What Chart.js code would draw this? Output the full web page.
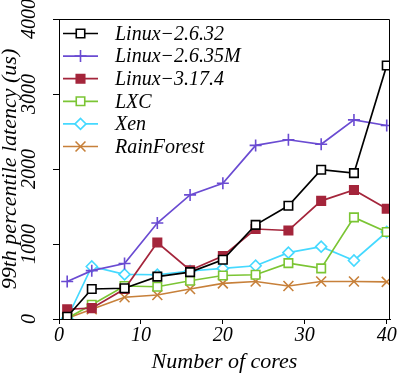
<!DOCTYPE html>
<html>
<head>
<meta charset="utf-8">
<script src="https://cdn.jsdelivr.net/npm/chart.js@4.4.0/dist/chart.umd.min.js"></script>
<style>
  body { margin: 0; background: #fff; }
</style>
</head>
<body>
<canvas id="myChart" width="399" height="373"></canvas>
<script>
// x values (number of cores)
const cores = [1, 4, 8, 12, 16, 20, 24, 28, 32, 36, 40];

// 99th percentile latency (us)
const linux2632  = [30, 400, 410, 565, 625, 790, 1255, 1510, 1990, 1945, 3380];
const linux2635M = [500, 645, 740, 1280, 1655, 1810, 2315, 2390, 2330, 2655, 2580];
const linux3174  = [130, 145, 400, 1020, 650, 840, 1200, 1180, 1575, 1720, 1470];
const lxc        = [10, 190, 440, 430, 510, 580, 590, 745, 675, 1355, 1160];
const xen        = [10, 700, 595, 590, 640, 675, 710, 885, 965, 780, 1160];
const rainforest = [10, 130, 290, 320, 400, 475, 500, 440, 500, 500, 495];

const xTicks = [0, 10, 20, 30, 40];
const yTicks = [0, 1000, 2000, 3000, 4000];

const serif = "'Liberation Serif', 'Times New Roman', serif";

function series(label, values, color, style, radius, fill) {
    return {
        label: label,
        data: cores.map((c, i) => ({ x: c, y: values[i] })),
        borderColor: color,
        backgroundColor: color,
        borderWidth: 1.7,
        pointStyle: style,
        pointRadius: radius,
        pointHoverRadius: radius,
        pointBorderWidth: 1.6,
        pointBorderColor: color,
        pointBackgroundColor: fill,
        tension: 0
    };
}

// legend drawn inside the plot, line + marker like the original
const legendInPlot = {
    id: 'legendInPlot',
    afterDatasetsDraw(chart) {
        const ctx = chart.ctx, a = chart.chartArea;
        ctx.save();
        ctx.font = 'italic 20px ' + serif;
        ctx.textBaseline = 'middle';
        ctx.textAlign = 'left';
        chart.data.datasets.forEach((ds, i) => {
            const y = a.top + 14.5 + i * 22.6;
            const x0 = a.left + 4;
            ctx.strokeStyle = ds.borderColor;
            ctx.lineWidth = ds.borderWidth;
            ctx.beginPath();
            ctx.moveTo(x0, y);
            ctx.lineTo(x0 + 35, y);
            ctx.stroke();
            ctx.fillStyle = ds.pointBackgroundColor;
            ctx.lineWidth = ds.pointBorderWidth;
            Chart.helpers.drawPoint(ctx, {
                pointStyle: ds.pointStyle,
                radius: ds.pointRadius,
                borderWidth: ds.pointBorderWidth,
                rotation: 0
            }, x0 + 17.5, y);
            ctx.fillStyle = '#000';
            ctx.fillText(ds.label, x0 + 52, y + 1);
        });
        ctx.restore();
    }
};

// top and right spines
const frame = {
    id: 'frame',
    afterDraw(chart) {
        const ctx = chart.ctx, a = chart.chartArea;
        ctx.save();
        ctx.strokeStyle = '#000';
        ctx.lineWidth = 1;
        ctx.beginPath();
        ctx.moveTo(a.left, a.top + 0.5);
        ctx.lineTo(a.right - 0.5, a.top + 0.5);
        ctx.lineTo(a.right - 0.5, a.bottom);
        ctx.stroke();
        ctx.restore();
    }
};

const tickFont = { family: serif, size: 20, style: 'italic' };
const titleFont = { family: serif, size: 22, style: 'italic' };

const ctx = document.getElementById('myChart').getContext('2d');
window.myChart = new Chart(ctx, {
    type: 'line',
    data: {
        datasets: [
            series('Linux\u22122.6.32', linux2632, '#000000', 'rect', 6, '#ffffff'),
            series('Linux\u22122.6.35M', linux2635M, '#6a4bd2', 'cross', 6, '#6a4bd2'),
            series('Linux\u22123.17.4', linux3174, '#a4253b', 'rect', 6, '#a4253b'),
            series('LXC', lxc, '#7bc534', 'rect', 6, '#ffffff'),
            series('Xen', xen, '#45d9ff', 'rectRot', 5.5, '#ffffff'),
            series('RainForest', rainforest, '#c7803a', 'crossRot', 7, '#c7803a')
        ]
    },
    plugins: [legendInPlot, frame],
    options: {
        responsive: false,
        animation: false,
        layout: { padding: { top: 19, right: 9, left: 0, bottom: 0 } },
        plugins: { legend: { display: false }, tooltip: { enabled: false } },
        scales: {
            x: {
                type: 'linear',
                min: 0,
                max: 40.4,
                afterBuildTicks(s) { s.ticks = xTicks.map(v => ({ value: v })); },
                ticks: { font: tickFont, color: '#000', padding: 0, maxRotation: 0, minRotation: 0,
                         callback: v => String(v) },
                grid: { display: true, drawOnChartArea: false, drawTicks: true, tickLength: 5, tickColor: '#000' },
                border: { display: true, color: '#000', width: 1 },
                title: {
                    display: true, text: 'Number of cores', color: '#000',
                    font: titleFont,
                    padding: { top: 0, bottom: -2 }
                },
                afterFit(s) { s.height = 54; s.paddingLeft = 0; s.paddingRight = 0; }
            },
            y: {
                type: 'linear',
                min: 0,
                max: 4000,
                afterBuildTicks(s) { s.ticks = yTicks.map(v => ({ value: v })); },
                ticks: { font: tickFont, color: '#000', padding: 3, minRotation: 90, maxRotation: 90, crossAlign: 'center',
                         callback: v => String(v) },
                grid: { display: true, drawOnChartArea: false, drawTicks: true, tickLength: 6, tickColor: '#000' },
                border: { display: true, color: '#000', width: 1 },
                title: {
                    display: true, text: '99th percentile latency (us)', color: '#000',
                    font: titleFont,
                    padding: { top: -3, bottom: 0 }
                },
                afterFit(s) { s.width = 59; s.paddingTop = 0; s.paddingBottom = 0; }
            }
        }
    }
});
</script>
</body>
</html>
